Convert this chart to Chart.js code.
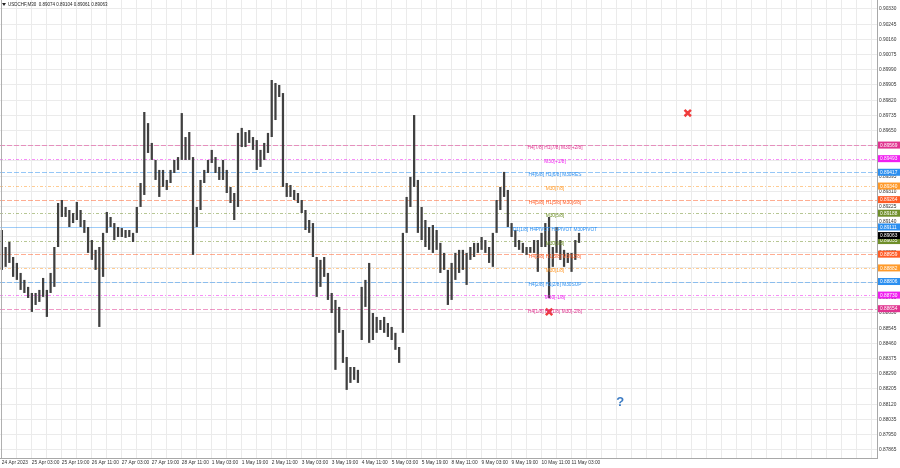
<!DOCTYPE html>
<html>
<head>
<meta charset="utf-8">
<script src="https://cdn.jsdelivr.net/npm/chart.js@4.4.1/dist/chart.umd.min.js"></script>
<style>
  html, body { margin: 0; padding: 0; background: #fff; }
  canvas { display: block; }
</style>
</head>
<body>
<canvas id="chart" width="900" height="468"></canvas>
<script>
// USDCHF M30, one entry per 2 hours from 24 Apr 11:00
const highs = [
  0.89094, 0.88999, 0.89027, 0.88943, 0.88910, 0.88854, 0.88815, 0.88776, 0.88742, 0.88742,
  0.88759, 0.88826, 0.88759, 0.88854, 0.88999, 0.89245, 0.89262, 0.89223, 0.89206, 0.89189,
  0.89251, 0.89206, 0.89150, 0.89111, 0.89038, 0.88983, 0.88999, 0.89078, 0.89195, 0.89167,
  0.89133, 0.89111, 0.89105, 0.89094, 0.89094, 0.89078, 0.89223, 0.89357, 0.89754, 0.89692,
  0.89581, 0.89486, 0.89430, 0.89430, 0.89374, 0.89430, 0.89486, 0.89502, 0.89748, 0.89614,
  0.89642, 0.89502, 0.89223, 0.89374, 0.89430, 0.89486, 0.89542, 0.89502, 0.89447, 0.89486,
  0.89430, 0.89335, 0.89301, 0.89637, 0.89665, 0.89642, 0.89653, 0.89614, 0.89597, 0.89542,
  0.89581, 0.89637, 0.89933, 0.89916, 0.89905, 0.89860, 0.89357, 0.89346, 0.89318, 0.89301,
  0.89262, 0.89206, 0.89150, 0.89133, 0.88943, 0.88927, 0.88943, 0.88854, 0.88742, 0.88703,
  0.88664, 0.88535, 0.88384, 0.88328, 0.88328, 0.88312, 0.88776, 0.88815, 0.88910, 0.88630,
  0.88608, 0.88591, 0.88608, 0.88574, 0.88552, 0.88519, 0.88440, 0.89078, 0.89279, 0.89391,
  0.89737, 0.89374, 0.89223, 0.89150, 0.89111, 0.89122, 0.89094, 0.89022, 0.88966, 0.88871,
  0.88910, 0.88966, 0.88983, 0.88983, 0.88966, 0.88999, 0.89022, 0.89022, 0.89055, 0.89038,
  0.88999, 0.89078, 0.89262, 0.89335, 0.89419, 0.89318, 0.89133, 0.89094, 0.89038, 0.89022,
  0.88999, 0.88999, 0.89038, 0.89038, 0.89078, 0.89133, 0.89167, 0.88999, 0.89111, 0.89038,
  0.88983, 0.88966, 0.88966, 0.89038, 0.89078
];
const lows = [
  0.88871, 0.88888, 0.88910, 0.88832, 0.88815, 0.88759, 0.88742, 0.88714, 0.88636, 0.88675,
  0.88692, 0.88720, 0.88608, 0.88742, 0.88776, 0.88999, 0.89167, 0.89167, 0.89111, 0.89133,
  0.89150, 0.89111, 0.89078, 0.88966, 0.88927, 0.88871, 0.88552, 0.88832, 0.89078, 0.89111,
  0.89038, 0.89055, 0.89055, 0.89050, 0.89055, 0.89027, 0.89078, 0.89223, 0.89290, 0.89525,
  0.89486, 0.89374, 0.89279, 0.89335, 0.89318, 0.89357, 0.89413, 0.89430, 0.89486, 0.89486,
  0.89486, 0.88955, 0.89111, 0.89206, 0.89357, 0.89413, 0.89469, 0.89413, 0.89374, 0.89374,
  0.89301, 0.89245, 0.89150, 0.89223, 0.89558, 0.89558, 0.89581, 0.89542, 0.89430, 0.89447,
  0.89486, 0.89525, 0.89614, 0.89709, 0.89838, 0.89335, 0.89279, 0.89279, 0.89262, 0.89245,
  0.89189, 0.89094, 0.89078, 0.88943, 0.88720, 0.88776, 0.88832, 0.88703, 0.88630, 0.88312,
  0.88519, 0.88351, 0.88200, 0.88239, 0.88256, 0.88239, 0.88479, 0.88664, 0.88463, 0.88479,
  0.88519, 0.88535, 0.88519, 0.88496, 0.88479, 0.88424, 0.88351, 0.88519, 0.89078, 0.89223,
  0.89335, 0.89078, 0.89038, 0.88999, 0.88983, 0.88966, 0.88983, 0.88854, 0.88871, 0.88675,
  0.88703, 0.88815, 0.88854, 0.88871, 0.88787, 0.88927, 0.88943, 0.88966, 0.88983, 0.88966,
  0.88910, 0.88888, 0.89078, 0.89206, 0.89279, 0.89111, 0.89055, 0.88999, 0.88983, 0.88966,
  0.88955, 0.88966, 0.88966, 0.88860, 0.88999, 0.88999, 0.88714, 0.88888, 0.88966, 0.88927,
  0.88888, 0.88910, 0.88860, 0.88927, 0.89022
];

// time labels, one every 8 entries (16 hours)
const tickLabels = [
  "24 Apr 2023", "25 Apr 03:00", "25 Apr 19:00", "26 Apr 11:00", "27 Apr 03:00",
  "27 Apr 19:00", "28 Apr 11:00", "1 May 03:00", "1 May 19:00", "2 May 11:00",
  "3 May 03:00", "3 May 19:00", "4 May 11:00", "5 May 03:00", "5 May 19:00",
  "8 May 11:00", "9 May 03:00", "9 May 19:00", "10 May 11:00", "11 May 03:00"
];
const yTicks = [
  0.87865, 0.87950, 0.88035, 0.88120, 0.88205, 0.88290, 0.88375, 0.88460, 0.88545, 0.88630,
  0.88715, 0.88800, 0.88885, 0.88970, 0.89055, 0.89140, 0.89225, 0.89310, 0.89395, 0.89480,
  0.89565, 0.89650, 0.89735, 0.89820, 0.89905, 0.89990, 0.90075, 0.90160, 0.90245, 0.90330
];

// Murrey math levels
const levelValues = [
  0.89569, 0.89493, 0.89417, 0.89340, 0.89264, 0.89188, 0.89111,
  0.89035, 0.88959, 0.88882, 0.88806, 0.88730, 0.88654
];
const levelTexts = [
  "H4[7/8] H1[7/8] M30[+2/8]", "M30[+1/8]", "H4[6/8] H1[6/8] M30RES", "M30[7/8]",
  "H4[5/8] H1[5/8] M30[6/8]", "M30[5/8]", "D1[1/8] H4PIVOT H1PIVOT M30PIVOT",
  "M30[3/8]", "H4[3/8] H1[3/8] M30[2/8]", "M30[1/8]", "H4[2/8] H1[2/8] M30SUP",
  "M30[-1/8]", "H4[1/8] H1[1/8] M30[-2/8]"
];
const levelColors = [
  "#e0338f", "#f01ef0", "#2b8ff0", "#ff9a2a", "#ff5c26", "#6f8f2a", "#2b8ff0",
  "#6f8f2a", "#ff5c26", "#ff9a2a", "#2b8ff0", "#f01ef0", "#e0338f"
];

const lastPrice = 0.89063;
const titleText = "USDCHF,M30  0.89074 0.89104 0.89061 0.89063";

// markers on the chart
const crossSlots = ["146", "183"];
const crossPrices = [0.88636, 0.89748];
const questionSlot = 165;
const questionPrice = 0.88132;

const slotCount = 234;
const categories = Array.from({ length: slotCount }, (_, i) => String(i));
const FONT = "Liberation Sans, Arial, sans-serif";

const levelsPlugin = {
  id: "levels",
  beforeDatasetsDraw(chart) {
    const { ctx, chartArea, scales } = chart;
    ctx.save();
    levelValues.forEach((v, i) => {
      const y = Math.round(scales.y.getPixelForValue(v)) + 0.5;
      ctx.strokeStyle = levelColors[i];
      ctx.globalAlpha = i === 6 ? 0.45 : 0.5;
      ctx.lineWidth = 1;
      ctx.setLineDash(i === 6 ? [] : (i % 2 ? [3, 2, 1, 2] : [5, 2]));
      ctx.beginPath();
      ctx.moveTo(chartArea.left, y);
      ctx.lineTo(chartArea.right, y);
      ctx.stroke();
    });
    ctx.restore();
  },
  afterDatasetsDraw(chart) {
    const { ctx, chartArea, scales } = chart;
    ctx.save();
    ctx.font = "4.8px " + FONT;
    ctx.textAlign = "center";
    ctx.textBaseline = "top";
    levelValues.forEach((v, i) => {
      const y = scales.y.getPixelForValue(v);
      ctx.fillStyle = levelColors[i];
      ctx.fillText(levelTexts[i], 555, y + 0.5);
    });

    // price boxes on the right axis
    ctx.textAlign = "left";
    ctx.textBaseline = "middle";
    const box = (v, col) => {
      const y = scales.y.getPixelForValue(v);
      ctx.fillStyle = col;
      ctx.fillRect(chartArea.right + 1, y - 3.5, 22, 7);
      ctx.fillStyle = "#fff";
      ctx.fillText(v.toFixed(5), chartArea.right + 3, y + 0.3);
    };
    levelValues.forEach((v, i) => box(v, levelColors[i]));
    box(lastPrice, "#000");

    // question mark
    ctx.font = "bold 13px " + FONT;
    ctx.textAlign = "center";
    ctx.fillStyle = "#3d7cc4";
    ctx.fillText("?", scales.x.getPixelForValue(questionSlot), scales.y.getPixelForValue(questionPrice));

    // title
    ctx.fillStyle = "#222";
    ctx.beginPath();
    ctx.moveTo(2, 3); ctx.lineTo(6, 3); ctx.lineTo(4, 6); ctx.closePath();
    ctx.fill();
    ctx.font = "4.5px " + FONT;
    ctx.textAlign = "left";
    ctx.fillText(titleText, 8, 5);

    // left border
    ctx.strokeStyle = "#b0b0b0";
    ctx.beginPath();
    ctx.moveTo(1.5, 0); ctx.lineTo(1.5, chartArea.bottom);
    ctx.stroke();
    ctx.restore();
  }
};

new Chart(document.getElementById("chart").getContext("2d"), {
  type: "bar",
  data: {
    labels: categories,
    datasets: [
      {
        data: lows.map((l, i) => [l, highs[i]]),
        backgroundColor: "#404040",
        barPercentage: 0.6,
        categoryPercentage: 1,
        grouped: false
      },
      {
        type: "line",
        data: crossSlots.map((s, i) => ({ x: s, y: crossPrices[i] })),
        showLine: false,
        pointStyle: "crossRot",
        pointRadius: 4.5,
        borderWidth: 2.5,
        borderColor: "#f03c3c"
      }
    ]
  },
  options: {
    responsive: false,
    animation: false,
    devicePixelRatio: 1,
    layout: { padding: 0, autoPadding: false },
    plugins: { legend: { display: false }, tooltip: { enabled: false } },
    scales: {
      x: {
        offset: true,
        afterFit(s) { s.height = 10; s.paddingLeft = 0; s.paddingRight = 0; },
        grid: {
          offset: false,
          drawTicks: false,
          color: c => (c.index % 4 === 0 ? "#ebebeb" : "transparent")
        },
        border: { display: true, color: "#a8a8a8" },
        ticks: {
          autoSkip: false,
          maxRotation: 0,
          minRotation: 0,
          align: "start",
          padding: 2,
          color: "#333",
          font: { family: FONT, size: 4.8 },
          callback: (v, i) => (i % 8 === 0 && tickLabels[i / 8]) ? tickLabels[i / 8] : ""
        }
      },
      y: {
        position: "right",
        min: 0.878191,
        max: 0.903803,
        afterFit(s) { s.width = 23; s.paddingTop = 0; s.paddingBottom = 0; },
        afterBuildTicks(s) { s.ticks = yTicks.map(v => ({ value: v })); },
        grid: { drawTicks: false, color: "#ebebeb" },
        border: { display: true, color: "#a8a8a8" },
        ticks: {
          padding: 2,
          color: "#333",
          font: { family: FONT, size: 4.8 },
          callback: v => v.toFixed(5)
        }
      }
    }
  },
  plugins: [levelsPlugin]
});
</script>
</body>
</html>
